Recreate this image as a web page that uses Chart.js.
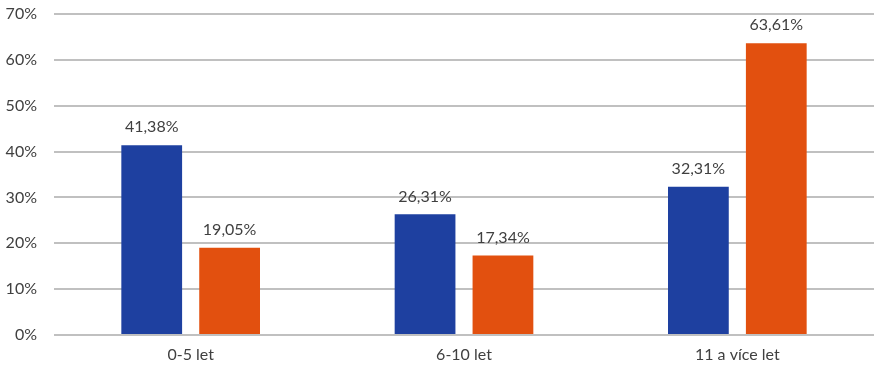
<!DOCTYPE html>
<html><head><meta charset="utf-8">
<script src="https://cdn.jsdelivr.net/npm/chart.js@4"></script>
<style>html,body{margin:0;padding:0;background:#fff}#w{width:880px;height:369px}</style>
</head><body><div id="w"><canvas id="c"></canvas></div>
<script>
const categories = ["0-5 let", "6-10 let", "11 a více let"];
const seriesA = [41.38, 26.31, 32.31];
const seriesB = [19.05, 17.34, 63.61];
const yTicks = [0, 10, 20, 30, 40, 50, 60, 70];

const FONT = "Lato, 'Open Sans', sans-serif";
const labelPlugin = {
  id: 'vals',
  afterDatasetsDraw(chart) {
    const ctx = chart.ctx;
    ctx.save();
    ctx.font = "16px " + FONT;
    ctx.fillStyle = "#404040";
    ctx.textAlign = "center";
    ctx.textBaseline = "bottom";
    chart.data.datasets.forEach((ds, i) => {
      chart.getDatasetMeta(i).data.forEach((bar, j) => {
        ctx.fillText(ds.data[j].toFixed(2).replace('.', ',') + '%', bar.x, bar.y - 10);
      });
    });
    ctx.restore();
  }
};

new Chart(document.getElementById('c'), {
  type: 'bar',
  data: {
    labels: categories,
    datasets: [
      { data: seriesA, backgroundColor: '#1e40a0', categoryPercentage: 0.57, barPercentage: 0.78 },
      { data: seriesB, backgroundColor: '#e2500f', categoryPercentage: 0.57, barPercentage: 0.78 }
    ]
  },
  options: {
    responsive: true, maintainAspectRatio: false, animation: false,
    layout: { padding: { top: 14, right: 6, left: 0, bottom: 0 } },
    plugins: { legend: { display: false }, tooltip: { enabled: false } },
    scales: {
      x: {
        grid: { display: false, drawTicks: false },
        border: { display: false },
        ticks: { color: '#404040', font: { family: FONT, size: 16 }, padding: 10 },
        afterFit(s) { s.height = 34; s.paddingLeft = 0; s.paddingRight = 0; }
      },
      y: {
        min: 0, max: 70,
        afterBuildTicks(s) { s.ticks = yTicks.map(v => ({ value: v })); },
        grid: { color: '#c0c0c0', lineWidth: 2, drawTicks: false },
        border: { display: false },
        ticks: { color: '#404040', font: { family: FONT, size: 16 }, padding: 17, callback: v => v + '%' },
        afterFit(s) { s.width = 54; s.paddingTop = 0; s.paddingBottom = 0; }
      }
    }
  },
  plugins: [labelPlugin]
});
</script></body></html>
